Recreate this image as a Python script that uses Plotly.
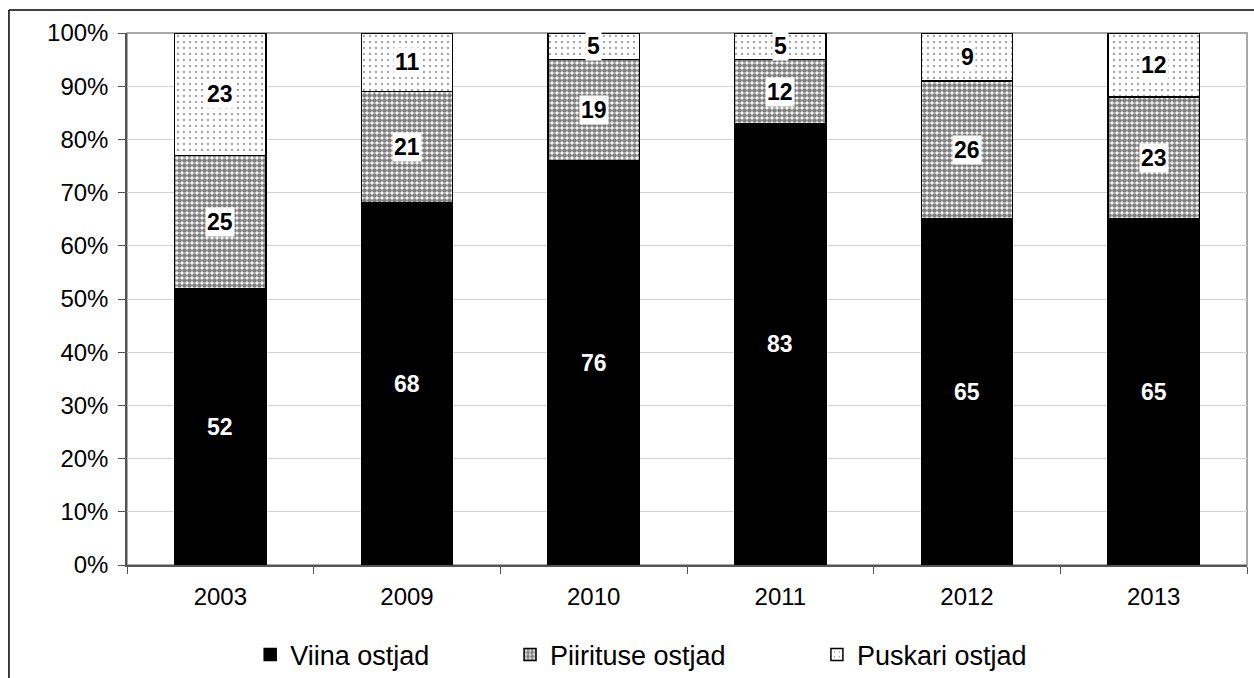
import plotly.graph_objects as go

years = ["2003", "2009", "2010", "2011", "2012", "2013"]
viina = [52, 68, 76, 83, 65, 65]
piiritus = [25, 21, 19, 12, 26, 23]
puskar = [23, 11, 5, 5, 9, 12]
names = ["Viina ostjad", "Piirituse ostjad", "Puskari ostjad"]
series = [viina, piiritus, puskar]

FONT = "Liberation Sans, Arial, sans-serif"

fig = go.Figure()
patterns = [
    dict(shape=""),
    dict(shape=".", fgcolor="black", bgcolor="white", size=5, solidity=0.7),
    dict(shape=".", fgcolor="black", bgcolor="white", size=6, solidity=0.08),
]
colors = ["black", "white", "white"]
legend_ids = ["legend", "legend2", "legend3"]
for name, vals, pat, col, lg in zip(names, series, patterns, colors, legend_ids):
    fig.add_trace(go.Bar(
        x=years, y=vals, name=name, legend=lg,
        marker=dict(color=col, line=dict(color="black", width=1.5), pattern=pat),
        width=0.49,
    ))

annotations = []
for i, y in enumerate(years):
    base = 0
    for k, vals in enumerate(series):
        v = vals[i]
        mid = base + v / 2
        if k == 0:
            annotations.append(dict(x=i, y=mid, text=str(v), showarrow=False,
                                    font=dict(family=FONT, size=23, color="white", weight="bold")))
        else:
            annotations.append(dict(x=i, y=mid, text=str(v), showarrow=False,
                                    bgcolor="white", borderpad=1,
                                    font=dict(family=FONT, size=23, color="black", weight="bold")))
        base += v

shapes = [
    dict(type="rect", xref="paper", yref="paper", x0=0, x1=1, y0=0, y1=1,
         line=dict(color="#8c8c8c", width=1.5), layer="below"),
    dict(type="line", xref="paper", yref="paper", x0=-0.1054, x1=-0.1054, y0=-0.25, y1=1.0432,
         line=dict(color="black", width=1.5)),
    dict(type="line", xref="paper", yref="paper", x0=-0.1054, x1=1.02, y0=1.0432, y1=1.0432,
         line=dict(color="black", width=1.5)),
]

leg_common = dict(orientation="h", yanchor="middle", y=-0.169, xanchor="left",
                  font=dict(size=27), itemwidth=30, bgcolor="rgba(0,0,0,0)")

fig.update_layout(
    barmode="stack",
    width=1254, height=678,
    margin=dict(l=127, r=7, t=33, b=113, autoexpand=False),
    paper_bgcolor="white", plot_bgcolor="white",
    font=dict(family=FONT, size=24, color="black"),
    annotations=annotations,
    shapes=shapes,
    showlegend=True,
    legend=dict(x=0.110, **leg_common),
    legend2=dict(x=0.342, **leg_common),
    legend3=dict(x=0.616, **leg_common),
    xaxis=dict(type="category", tickson="boundaries", ticks="outside", ticklen=7,
               tickcolor="#555", showline=True, linecolor="#555", linewidth=1.5,
               tickfont=dict(size=24), showgrid=False, ticklabelstandoff=9, automargin=False),
    yaxis=dict(range=[0, 100], dtick=10, ticksuffix="%", ticks="outside", ticklen=7,
               tickcolor="#555", showline=True, linecolor="#555", linewidth=1.5,
               gridcolor="#d4d4d4", gridwidth=1.2, tickfont=dict(size=24), zeroline=False,
               ticklabelstandoff=5, automargin=False),
)

fig.write_html("out.html", config={"displayModeBar": False},
               post_script="document.body.style.margin='0';document.body.style.overflow='hidden';")
